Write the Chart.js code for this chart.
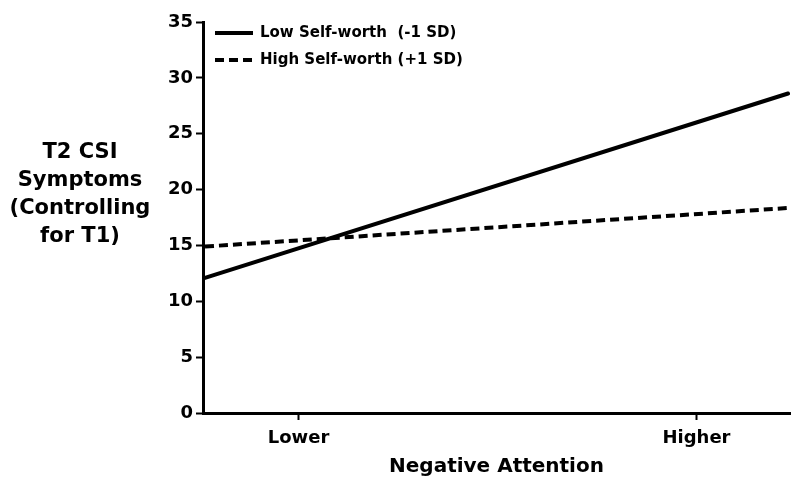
<!DOCTYPE html>
<html>
<head>
<meta charset="utf-8">
<script src="https://cdn.jsdelivr.net/npm/chart.js@4/dist/chart.umd.min.js"></script>
<style>
  html, body { margin: 0; padding: 0; background: #fff; }
  #wrap { width: 800px; height: 496px; }
</style>
</head>
<body>
<div id="wrap"><canvas id="chart" width="800" height="496"></canvas></div>
<script>
// data
const xValues = [-1.47, 1.46];
const lowSelfWorth = [12.1, 28.6];
const highSelfWorth = [14.9, 18.35];
const xTickValues = [-1, 1];
const xTickLabels = ['Lower', 'Higher'];
const seriesNames = ['Low Self-worth  (-1 SD)', 'High Self-worth (+1 SD)'];
const yTitleLines = ['T2 CSI', 'Symptoms', '(Controlling', 'for T1)'];

const FONT = "'DejaVu Sans', sans-serif";

function toPoints(ys) {
  return xValues.map((x, i) => ({ x: x, y: ys[i] }));
}

// y title (horizontal, multi-line) and the legend, drawn on the canvas
const extras = {
  id: 'extras',
  afterDraw(chart) {
    const ctx = chart.ctx;
    ctx.save();
    ctx.fillStyle = '#000';
    ctx.textAlign = 'center';
    ctx.textBaseline = 'middle';
    ctx.font = 'bold 21px ' + FONT;
    yTitleLines.forEach((line, i) => {
      ctx.fillText(line, 80, 153 + i * 27.7);
    });

    ctx.font = 'bold 15px ' + FONT;
    ctx.textAlign = 'left';
    chart.data.datasets.forEach((ds, i) => {
      const y = 33 + i * 27;
      ctx.strokeStyle = '#000';
      ctx.lineWidth = ds.borderWidth;
      ctx.setLineDash(ds.borderDash || []);
      ctx.beginPath();
      ctx.moveTo(215, y);
      ctx.lineTo(253, y);
      ctx.stroke();
      ctx.setLineDash([]);
      ctx.fillText(ds.label, 260, y);
    });
    ctx.restore();
  }
};

const ctx = document.getElementById('chart').getContext('2d');

const chart = new Chart(ctx, {
  type: 'line',
  data: {
    datasets: [
      {
        label: seriesNames[0],
        data: toPoints(lowSelfWorth),
        borderColor: '#000',
        borderWidth: 4,
        pointRadius: 0,
        borderCapStyle: 'round'
      },
      {
        label: seriesNames[1],
        data: toPoints(highSelfWorth),
        borderColor: '#000',
        borderWidth: 4,
        borderDash: [9, 5],
        pointRadius: 0
      }
    ]
  },
  options: {
    responsive: false,
    animation: false,
    layout: { padding: { left: 0, right: 10, top: 22, bottom: 0 } },
    plugins: {
      legend: { display: false },
      tooltip: { enabled: false }
    },
    scales: {
      x: {
        type: 'linear',
        min: -1.48,
        max: 1.47,
        afterBuildTicks: (scale) => {
          scale.ticks = xTickValues.map(v => ({ value: v }));
        },
        afterFit: (scale) => { scale.height = 83; },
        ticks: {
          color: '#000',
          font: { family: FONT, size: 18, weight: 'bold' },
          padding: 8,
          maxRotation: 0,
          callback: (v) => xTickLabels[xTickValues.indexOf(v)]
        },
        grid: {
          drawOnChartArea: false,
          drawTicks: true,
          tickLength: 7,
          tickWidth: 2,
          tickColor: '#000'
        },
        border: { display: true, color: '#000', width: 3 },
        title: {
          display: true,
          text: 'Negative Attention',
          color: '#000',
          font: { family: FONT, size: 20, weight: 'bold' },
          padding: { top: 0, bottom: 17 }
        }
      },
      y: {
        min: 0,
        max: 35,
        afterFit: (scale) => { scale.width = 203; },
        ticks: {
          stepSize: 5,
          color: '#000',
          font: { family: FONT, size: 18, weight: 'bold' },
          padding: 3
        },
        grid: {
          drawOnChartArea: false,
          drawTicks: true,
          tickLength: 7,
          tickWidth: 2,
          tickColor: '#000'
        },
        border: { display: true, color: '#000', width: 3 }
      }
    }
  },
  plugins: [extras]
});
</script>
</body>
</html>
